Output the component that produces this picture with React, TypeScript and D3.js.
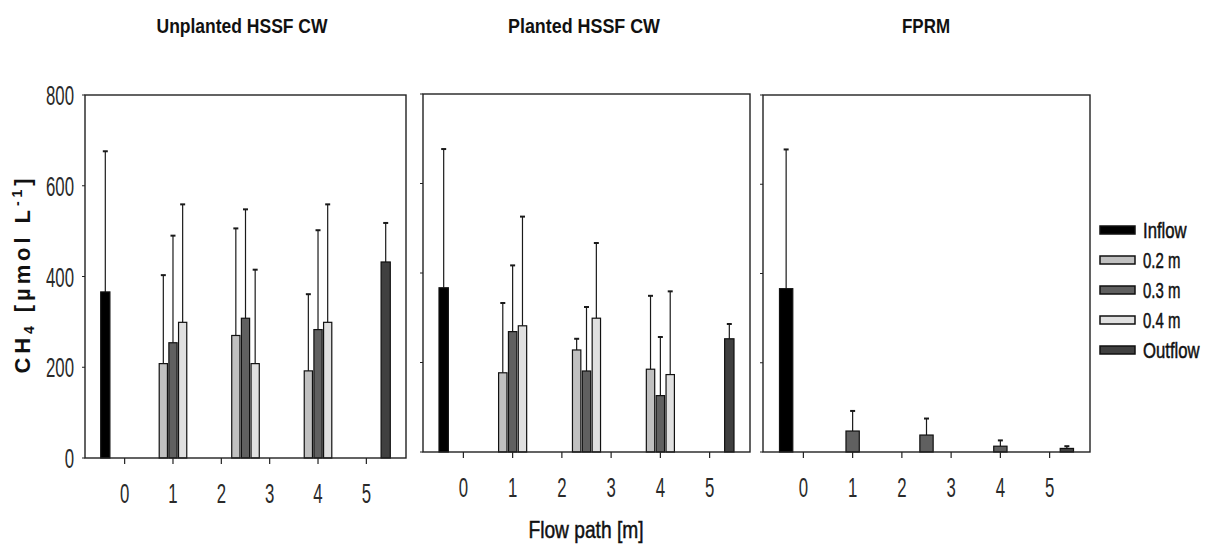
import * as d3 from "d3";

// series / legend
const seriesNames = ["Inflow", "0.2 m", "0.3 m", "0.4 m", "Outflow"];
const seriesFill = ["#000000", "#c0c0c0", "#606060", "#e0e0e0", "#404040"];

const panelTitles = ["Unplanted HSSF CW", "Planted HSSF CW", "FPRM"];
const xTicks = [0, 1, 2, 3, 4, 5];
const yTicks = [0, 200, 400, 600, 800];

// positions along the flow path [m]
const depthPositions = [1, 2.5, 4];
const inflowPos = -0.4;
const outflowPos = 5.4;

// Unplanted HSSF CW (mean, sd)
const unInflow = [366, 310];
const unOutflow = [432, 86];
const un02 = [208, 270, 192];
const un02Sd = [195, 236, 169];
const un03 = [254, 308, 283];
const un03Sd = [236, 240, 219];
const un04 = [299, 208, 299];
const un04Sd = [260, 207, 260];

// Planted HSSF CW
const plInflow = [367, 310];
const plOutflow = [253, 33];
const pl02 = [177, 228, 185];
const pl02Sd = [156, 25, 164];
const pl03 = [269, 181, 126];
const pl03Sd = [148, 143, 131];
const pl04 = [282, 299, 173];
const pl04Sd = [244, 168, 186];

// FPRM
const fpInflow = [366, 312];
const fpOutflow = [8, 5];
const fp03 = [47, 38, 13];
const fp03Sd = [45, 37, 13];

type Bar = { pos: number; value: number; sd: number; s: number; w: number };

function hssfBars(inflow: number[], outflow: number[], d02: number[], s02: number[], d03: number[], s03: number[], d04: number[], s04: number[]): Bar[] {
  const bars: Bar[] = [{ pos: inflowPos, value: inflow[0], sd: inflow[1], s: 0, w: 0.19 }];
  depthPositions.forEach((p, i) => {
    bars.push({ pos: p - 0.2, value: d02[i], sd: s02[i], s: 1, w: 0.17 });
    bars.push({ pos: p, value: d03[i], sd: s03[i], s: 2, w: 0.17 });
    bars.push({ pos: p + 0.2, value: d04[i], sd: s04[i], s: 3, w: 0.17 });
  });
  bars.push({ pos: outflowPos, value: outflow[0], sd: outflow[1], s: 4, w: 0.19 });
  return bars;
}

function fprmBars(): Bar[] {
  const bars: Bar[] = [{ pos: -0.35, value: fpInflow[0], sd: fpInflow[1], s: 0, w: 0.27 }];
  depthPositions.forEach((p, i) => bars.push({ pos: p, value: fp03[i], sd: fp03Sd[i], s: 2, w: 0.27 }));
  bars.push({ pos: 5.35, value: fpOutflow[0], sd: fpOutflow[1], s: 4, w: 0.27 });
  return bars;
}

const panels = [
  { left: 85, right: 406, top: 95, bottom: 458, titleX: 242, yLabels: true, bars: hssfBars(unInflow, unOutflow, un02, un02Sd, un03, un03Sd, un04, un04Sd), titleW: 171 },
  { left: 423, right: 750, top: 94, bottom: 452, titleX: 584, yLabels: false, bars: hssfBars(plInflow, plOutflow, pl02, pl02Sd, pl03, pl03Sd, pl04, pl04Sd), titleW: 152 },
  { left: 763, right: 1090, top: 95, bottom: 452, titleX: 926, yLabels: false, bars: fprmBars(), titleW: 48 },
];

// horizontal squeeze of each legend label (narrow font look)
const legendSqueeze = [0.76, 0.68, 0.68, 0.68, 0.76];
const font = "'Liberation Sans', Arial, sans-serif";

function Panel({ p, idx }: { p: (typeof panels)[number]; idx: number }) {
  const x = d3.scaleLinear().domain([-0.82, 5.82]).range([p.left, p.right]);
  const y = d3.scaleLinear().domain([0, 800]).range([p.bottom, p.top]);
  return (
    <g>
      <text x={p.titleX} y={33} textAnchor="middle" fontFamily={font} fontWeight="bold" fontSize={21}
        textLength={p.titleW} lengthAdjust="spacingAndGlyphs" fill="#111">{panelTitles[idx]}</text>
      {p.bars.map((b, i) => {
        const x0 = x(b.pos - b.w / 2);
        const x1 = x(b.pos + b.w / 2);
        const cx = x(b.pos);
        const yTop = y(b.value);
        const yErr = y(b.value + b.sd);
        return (
          <g key={i}>
            <line x1={cx} x2={cx} y1={yTop} y2={yErr} stroke="#1a1a1a" strokeWidth={1.2} />
            <line x1={cx - 2.5} x2={cx + 2.5} y1={yErr} y2={yErr} stroke="#1a1a1a" strokeWidth={2} />
            <rect x={x0} y={yTop} width={x1 - x0} height={y(0) - yTop} fill={seriesFill[b.s]} stroke="#111" strokeWidth={1.2} />
          </g>
        );
      })}
      <rect x={p.left} y={p.top} width={p.right - p.left} height={p.bottom - p.top} fill="none" stroke="#222" strokeWidth={1.4} />
      {yTicks.map((t) => (
        <g key={t}>
          <line x1={p.left - 3} x2={p.left} y1={y(t)} y2={y(t)} stroke="#222" strokeWidth={1} />
          {p.yLabels && (
            <text transform={`translate(${p.left - 11},${y(t) + 10}) scale(0.6,1)`} textAnchor="end"
              fontFamily={font} fontSize={28} fill="#2a2a2a">{t}</text>
          )}
        </g>
      ))}
      {xTicks.map((t) => (
        <g key={t}>
          <line x1={x(t)} x2={x(t)} y1={p.bottom} y2={p.bottom + 6} stroke="#222" strokeWidth={1.2} />
          <text transform={`translate(${x(t)},${p.bottom + 45}) scale(0.6,1)`} textAnchor="middle"
            fontFamily={font} fontSize={28} fill="#2a2a2a">{t}</text>
        </g>
      ))}
    </g>
  );
}

export default function App() {
  return (
    <svg width={1208} height={547} style={{ position: "absolute", left: 0, top: 0, background: "#fff" }}>
      <rect width={1208} height={547} fill="#fff" />
      {panels.map((p, i) => (
        <Panel key={i} p={p} idx={i} />
      ))}
      <text transform="translate(30,276) rotate(-90)" textAnchor="middle" fontFamily={font} fontWeight="bold"
        fontSize={22} fill="#111" textLength={195} lengthAdjust="spacing">
        CH<tspan dy={4} fontSize={14}>4</tspan>
        <tspan dy={-4}> [µmol L</tspan>
        <tspan dy={-8} fontSize={14}>-1</tspan>
        <tspan dy={8}>]</tspan>
      </text>
      <text transform="translate(586,538) scale(0.8,1)" textAnchor="middle" fontFamily={font} fontSize={24}
        fill="#111" stroke="#111" strokeWidth={0.5}>
        Flow path [m]
      </text>
      {seriesNames.map((n, i) => {
        const cy = 230 + i * 30;
        return (
          <g key={n}>
            <rect x={1100} y={cy - 4} width={35} height={8} fill={seriesFill[i]} stroke="#111" strokeWidth={1.5} />
            <text transform={`translate(1143,${cy + 8}) scale(${legendSqueeze[i]},1)`} fontFamily={font}
              fontSize={22} fill="#111" stroke="#111" strokeWidth={0.5}>{n}</text>
          </g>
        );
      })}
    </svg>
  );
}
